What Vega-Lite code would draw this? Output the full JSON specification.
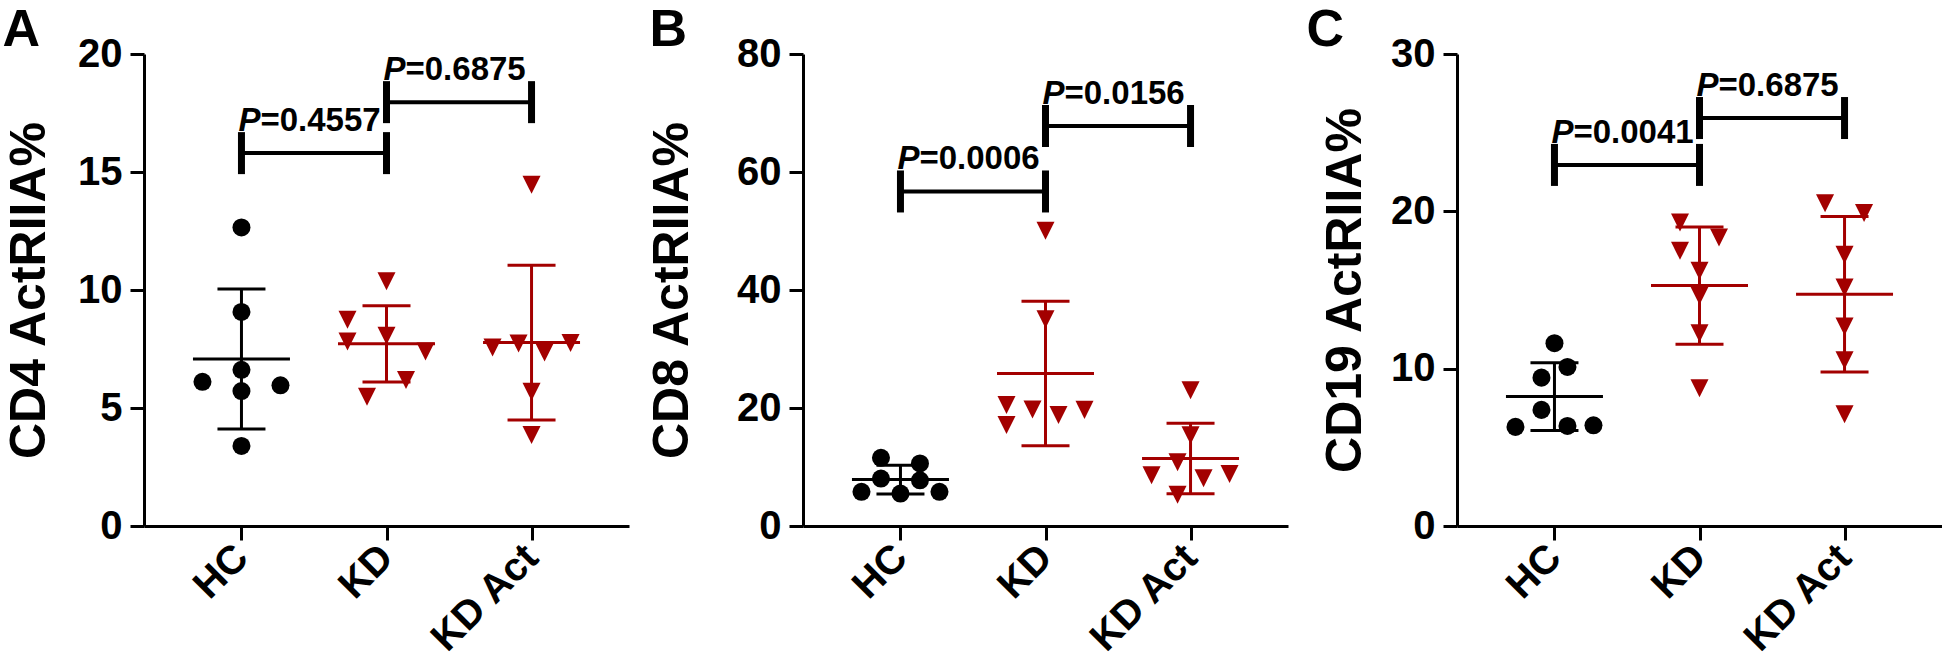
{
  "$schema": "https://vega.github.io/schema/vega-lite/v6.json",
  "padding": {"left": 2, "top": 4, "right": 0, "bottom": 0},
  "background": "white",
  "datasets": {
    "pts": [
      {"panel": "A", "group": "HC", "value": 12.65, "slot": 0},
      {"panel": "A", "group": "HC", "value": 9.07, "slot": 0},
      {"panel": "A", "group": "HC", "value": 6.62, "slot": 0},
      {"panel": "A", "group": "HC", "value": 6.11, "slot": -6},
      {"panel": "A", "group": "HC", "value": 5.96, "slot": 6},
      {"panel": "A", "group": "HC", "value": 5.72, "slot": 0},
      {"panel": "A", "group": "HC", "value": 3.39, "slot": 0},
      {"panel": "A", "group": "KD", "value": 10.37, "slot": 0},
      {"panel": "A", "group": "KD", "value": 8.74, "slot": -6},
      {"panel": "A", "group": "KD", "value": 7.82, "slot": -6},
      {"panel": "A", "group": "KD", "value": 8.06, "slot": 0},
      {"panel": "A", "group": "KD", "value": 7.39, "slot": 6},
      {"panel": "A", "group": "KD", "value": 6.19, "slot": 3},
      {"panel": "A", "group": "KD", "value": 5.48, "slot": -3},
      {"panel": "A", "group": "KD Act", "value": 14.46, "slot": 0},
      {"panel": "A", "group": "KD Act", "value": 7.56, "slot": -6},
      {"panel": "A", "group": "KD Act", "value": 7.73, "slot": -2},
      {"panel": "A", "group": "KD Act", "value": 7.35, "slot": 2},
      {"panel": "A", "group": "KD Act", "value": 7.75, "slot": 6},
      {"panel": "A", "group": "KD Act", "value": 5.69, "slot": 0},
      {"panel": "A", "group": "KD Act", "value": 3.86, "slot": 0},
      {"panel": "B", "group": "HC", "value": 11.55, "slot": -3},
      {"panel": "B", "group": "HC", "value": 10.6, "slot": 3},
      {"panel": "B", "group": "HC", "value": 8.05, "slot": -3},
      {"panel": "B", "group": "HC", "value": 7.75, "slot": 3},
      {"panel": "B", "group": "HC", "value": 5.8, "slot": -6},
      {"panel": "B", "group": "HC", "value": 5.5, "slot": 0},
      {"panel": "B", "group": "HC", "value": 5.8, "slot": 6},
      {"panel": "B", "group": "KD", "value": 50.04, "slot": 0},
      {"panel": "B", "group": "KD", "value": 35.05, "slot": 0},
      {"panel": "B", "group": "KD", "value": 20.52, "slot": -6},
      {"panel": "B", "group": "KD", "value": 19.73, "slot": -2},
      {"panel": "B", "group": "KD", "value": 18.83, "slot": 2},
      {"panel": "B", "group": "KD", "value": 19.68, "slot": 6},
      {"panel": "B", "group": "KD", "value": 17.13, "slot": -6},
      {"panel": "B", "group": "KD Act", "value": 23.0, "slot": 0},
      {"panel": "B", "group": "KD Act", "value": 15.4, "slot": 0},
      {"panel": "B", "group": "KD Act", "value": 10.8, "slot": -2},
      {"panel": "B", "group": "KD Act", "value": 8.6, "slot": -6},
      {"panel": "B", "group": "KD Act", "value": 8.1, "slot": 2},
      {"panel": "B", "group": "KD Act", "value": 8.8, "slot": 6},
      {"panel": "B", "group": "KD Act", "value": 5.3, "slot": -2},
      {"panel": "C", "group": "HC", "value": 11.62, "slot": 0},
      {"panel": "C", "group": "HC", "value": 10.11, "slot": 2},
      {"panel": "C", "group": "HC", "value": 9.43, "slot": -2},
      {"panel": "C", "group": "HC", "value": 7.38, "slot": -2},
      {"panel": "C", "group": "HC", "value": 6.3, "slot": -6},
      {"panel": "C", "group": "HC", "value": 6.36, "slot": 2},
      {"panel": "C", "group": "HC", "value": 6.4, "slot": 6},
      {"panel": "C", "group": "KD", "value": 19.29, "slot": -3},
      {"panel": "C", "group": "KD", "value": 18.34, "slot": 3},
      {"panel": "C", "group": "KD", "value": 17.49, "slot": -3},
      {"panel": "C", "group": "KD", "value": 16.22, "slot": 0},
      {"panel": "C", "group": "KD", "value": 14.63, "slot": 0},
      {"panel": "C", "group": "KD", "value": 12.25, "slot": 0},
      {"panel": "C", "group": "KD", "value": 8.75, "slot": 0},
      {"panel": "C", "group": "KD Act", "value": 20.52, "slot": -3},
      {"panel": "C", "group": "KD Act", "value": 19.89, "slot": 3},
      {"panel": "C", "group": "KD Act", "value": 17.24, "slot": 0},
      {"panel": "C", "group": "KD Act", "value": 15.16, "slot": 0},
      {"panel": "C", "group": "KD Act", "value": 12.68, "slot": 0},
      {"panel": "C", "group": "KD Act", "value": 10.54, "slot": 0},
      {"panel": "C", "group": "KD Act", "value": 7.1, "slot": 0}
    ],
    "brk": [
      {"panel": "A", "from": "HC", "to": "KD", "y": 15.8, "p": "=0.4557"},
      {"panel": "A", "from": "KD", "to": "KD Act", "y": 17.96, "p": "=0.6875"},
      {"panel": "B", "from": "HC", "to": "KD", "y": 56.7, "p": "=0.0006"},
      {"panel": "B", "from": "KD", "to": "KD Act", "y": 67.8, "p": "=0.0156"},
      {"panel": "C", "from": "HC", "to": "KD", "y": 22.95, "p": "=0.0041"},
      {"panel": "C", "from": "KD", "to": "KD Act", "y": 25.93, "p": "=0.6875"}
    ]
  },
  "hconcat": [
    {
      "width": 485, "height": 472,
      "title": {"text": "A", "dx": -2},
      "layer": [
        {"data": {"name": "pts"}, "transform": [{"filter": "datum.panel == 'A'"}],
         "mark": {"type": "point", "filled": true, "opacity": 1, "strokeWidth": 0, "size": 325},
         "encoding": {
           "x": {"field": "group", "type": "nominal", "scale": {"type": "point", "domain": ["HC", "KD", "KD Act"], "padding": 0.672}, "axis": {"title": null, "labelAngle": -45, "labelAlign": "right", "labelBaseline": "middle"}},
           "xOffset": {"field": "slot", "type": "quantitative", "scale": {"domain": [-6, 6], "range": [-39, 39]}},
           "y": {"field": "value", "type": "quantitative", "scale": {"domain": [0, 20], "nice": false}, "axis": {"title": "CD4 ActRIIA%", "values": [0, 5, 10, 15, 20], "titlePadding": 23}},
           "color": {"field": "group", "type": "nominal", "scale": {"domain": ["HC", "KD", "KD Act"], "range": ["#000000", "#a30000", "#a30000"]}, "legend": null},
           "shape": {"field": "group", "type": "nominal", "scale": {"domain": ["HC", "KD", "KD Act"], "range": ["circle", "M-1,-1L1,-1L0,1Z", "M-1,-1L1,-1L0,1Z"]}, "legend": null}
         }},
        {"data": {"name": "pts"}, "transform": [{"filter": "datum.panel == 'A'"}],
         "mark": {"type": "errorbar", "extent": "stdev", "ticks": true, "size": 48, "thickness": 3, "opacity": 1},
         "encoding": {
           "x": {"field": "group", "type": "nominal", "axis": {"title": null, "labelAngle": -45, "labelAlign": "right", "labelBaseline": "middle"}},
           "y": {"field": "value", "type": "quantitative", "axis": {"title": "CD4 ActRIIA%", "values": [0, 5, 10, 15, 20], "titlePadding": 23}},
           "color": {"field": "group", "type": "nominal", "legend": null}
         }},
        {"data": {"name": "pts"}, "transform": [{"filter": "datum.panel == 'A'"}],
         "mark": {"type": "tick", "size": 97, "thickness": 3, "opacity": 1},
         "encoding": {
           "x": {"field": "group", "type": "nominal", "axis": {"title": null, "labelAngle": -45, "labelAlign": "right", "labelBaseline": "middle"}},
           "y": {"aggregate": "mean", "field": "value", "type": "quantitative", "axis": {"title": "CD4 ActRIIA%", "values": [0, 5, 10, 15, 20], "titlePadding": 23}},
           "color": {"field": "group", "type": "nominal", "legend": null}
         }},
        {"data": {"name": "brk"}, "transform": [{"filter": "datum.panel == 'A'"}],
         "mark": {"type": "rule", "strokeWidth": 4, "color": "black", "opacity": 1},
         "encoding": {
           "x": {"field": "from", "type": "nominal", "axis": {"title": null, "labelAngle": -45, "labelAlign": "right", "labelBaseline": "middle"}},
           "x2": {"field": "to"},
           "y": {"field": "y", "type": "quantitative", "axis": {"title": "CD4 ActRIIA%", "values": [0, 5, 10, 15, 20], "titlePadding": 23}}
         }},
        {"data": {"name": "brk"}, "transform": [{"filter": "datum.panel == 'A'"}],
         "mark": {"type": "tick", "orient": "vertical", "size": 42, "thickness": 7, "color": "black", "opacity": 1},
         "encoding": {
           "x": {"field": "from", "type": "nominal", "axis": {"title": null, "labelAngle": -45, "labelAlign": "right", "labelBaseline": "middle"}},
           "y": {"field": "y", "type": "quantitative", "axis": {"title": "CD4 ActRIIA%", "values": [0, 5, 10, 15, 20], "titlePadding": 23}}
         }},
        {"data": {"name": "brk"}, "transform": [{"filter": "datum.panel == 'A'"}],
         "mark": {"type": "tick", "orient": "vertical", "size": 42, "thickness": 7, "color": "black", "opacity": 1},
         "encoding": {
           "x": {"field": "to", "type": "nominal", "axis": {"title": null, "labelAngle": -45, "labelAlign": "right", "labelBaseline": "middle"}},
           "y": {"field": "y", "type": "quantitative", "axis": {"title": "CD4 ActRIIA%", "values": [0, 5, 10, 15, 20], "titlePadding": 23}}
         }},
        {"data": {"name": "brk"}, "transform": [{"filter": "datum.panel == 'A'"}],
         "mark": {"type": "text", "text": "P", "align": "left", "baseline": "alphabetic", "dx": -3, "dy": -22, "fontStyle": "italic"},
         "encoding": {
           "x": {"field": "from", "type": "nominal", "axis": {"title": null, "labelAngle": -45, "labelAlign": "right", "labelBaseline": "middle"}},
           "y": {"field": "y", "type": "quantitative", "axis": {"title": "CD4 ActRIIA%", "values": [0, 5, 10, 15, 20], "titlePadding": 23}}
         }},
        {"data": {"name": "brk"}, "transform": [{"filter": "datum.panel == 'A'"}],
         "mark": {"type": "text", "align": "left", "baseline": "alphabetic", "dx": 19, "dy": -22},
         "encoding": {
           "x": {"field": "from", "type": "nominal", "axis": {"title": null, "labelAngle": -45, "labelAlign": "right", "labelBaseline": "middle"}},
           "y": {"field": "y", "type": "quantitative", "axis": {"title": "CD4 ActRIIA%", "values": [0, 5, 10, 15, 20], "titlePadding": 23}},
           "text": {"field": "p"}
         }}
      ]
    },
    {
      "width": 485, "height": 472,
      "title": {"text": "B", "dx": 2},
      "layer": [
        {"data": {"name": "pts"}, "transform": [{"filter": "datum.panel == 'B'"}],
         "mark": {"type": "point", "filled": true, "opacity": 1, "strokeWidth": 0, "size": 325},
         "encoding": {
           "x": {"field": "group", "type": "nominal", "scale": {"type": "point", "domain": ["HC", "KD", "KD Act"], "padding": 0.672}, "axis": {"title": null, "labelAngle": -45, "labelAlign": "right", "labelBaseline": "middle"}},
           "xOffset": {"field": "slot", "type": "quantitative", "scale": {"domain": [-6, 6], "range": [-39, 39]}},
           "y": {"field": "value", "type": "quantitative", "scale": {"domain": [0, 80], "nice": false}, "axis": {"title": "CD8 ActRIIA%", "values": [0, 20, 40, 60, 80], "titlePadding": 39}},
           "color": {"field": "group", "type": "nominal", "scale": {"domain": ["HC", "KD", "KD Act"], "range": ["#000000", "#a30000", "#a30000"]}, "legend": null},
           "shape": {"field": "group", "type": "nominal", "scale": {"domain": ["HC", "KD", "KD Act"], "range": ["circle", "M-1,-1L1,-1L0,1Z", "M-1,-1L1,-1L0,1Z"]}, "legend": null}
         }},
        {"data": {"name": "pts"}, "transform": [{"filter": "datum.panel == 'B'"}],
         "mark": {"type": "errorbar", "extent": "stdev", "ticks": true, "size": 48, "thickness": 3, "opacity": 1},
         "encoding": {
           "x": {"field": "group", "type": "nominal", "axis": {"title": null, "labelAngle": -45, "labelAlign": "right", "labelBaseline": "middle"}},
           "y": {"field": "value", "type": "quantitative", "axis": {"title": "CD8 ActRIIA%", "values": [0, 20, 40, 60, 80], "titlePadding": 39}},
           "color": {"field": "group", "type": "nominal", "legend": null}
         }},
        {"data": {"name": "pts"}, "transform": [{"filter": "datum.panel == 'B'"}],
         "mark": {"type": "tick", "size": 97, "thickness": 3, "opacity": 1},
         "encoding": {
           "x": {"field": "group", "type": "nominal", "axis": {"title": null, "labelAngle": -45, "labelAlign": "right", "labelBaseline": "middle"}},
           "y": {"aggregate": "mean", "field": "value", "type": "quantitative", "axis": {"title": "CD8 ActRIIA%", "values": [0, 20, 40, 60, 80], "titlePadding": 39}},
           "color": {"field": "group", "type": "nominal", "legend": null}
         }},
        {"data": {"name": "brk"}, "transform": [{"filter": "datum.panel == 'B'"}],
         "mark": {"type": "rule", "strokeWidth": 4, "color": "black", "opacity": 1},
         "encoding": {
           "x": {"field": "from", "type": "nominal", "axis": {"title": null, "labelAngle": -45, "labelAlign": "right", "labelBaseline": "middle"}},
           "x2": {"field": "to"},
           "y": {"field": "y", "type": "quantitative", "axis": {"title": "CD8 ActRIIA%", "values": [0, 20, 40, 60, 80], "titlePadding": 39}}
         }},
        {"data": {"name": "brk"}, "transform": [{"filter": "datum.panel == 'B'"}],
         "mark": {"type": "tick", "orient": "vertical", "size": 42, "thickness": 7, "color": "black", "opacity": 1},
         "encoding": {
           "x": {"field": "from", "type": "nominal", "axis": {"title": null, "labelAngle": -45, "labelAlign": "right", "labelBaseline": "middle"}},
           "y": {"field": "y", "type": "quantitative", "axis": {"title": "CD8 ActRIIA%", "values": [0, 20, 40, 60, 80], "titlePadding": 39}}
         }},
        {"data": {"name": "brk"}, "transform": [{"filter": "datum.panel == 'B'"}],
         "mark": {"type": "tick", "orient": "vertical", "size": 42, "thickness": 7, "color": "black", "opacity": 1},
         "encoding": {
           "x": {"field": "to", "type": "nominal", "axis": {"title": null, "labelAngle": -45, "labelAlign": "right", "labelBaseline": "middle"}},
           "y": {"field": "y", "type": "quantitative", "axis": {"title": "CD8 ActRIIA%", "values": [0, 20, 40, 60, 80], "titlePadding": 39}}
         }},
        {"data": {"name": "brk"}, "transform": [{"filter": "datum.panel == 'B'"}],
         "mark": {"type": "text", "text": "P", "align": "left", "baseline": "alphabetic", "dx": -3, "dy": -22, "fontStyle": "italic"},
         "encoding": {
           "x": {"field": "from", "type": "nominal", "axis": {"title": null, "labelAngle": -45, "labelAlign": "right", "labelBaseline": "middle"}},
           "y": {"field": "y", "type": "quantitative", "axis": {"title": "CD8 ActRIIA%", "values": [0, 20, 40, 60, 80], "titlePadding": 39}}
         }},
        {"data": {"name": "brk"}, "transform": [{"filter": "datum.panel == 'B'"}],
         "mark": {"type": "text", "align": "left", "baseline": "alphabetic", "dx": 19, "dy": -22},
         "encoding": {
           "x": {"field": "from", "type": "nominal", "axis": {"title": null, "labelAngle": -45, "labelAlign": "right", "labelBaseline": "middle"}},
           "y": {"field": "y", "type": "quantitative", "axis": {"title": "CD8 ActRIIA%", "values": [0, 20, 40, 60, 80], "titlePadding": 39}},
           "text": {"field": "p"}
         }}
      ]
    },
    {
      "width": 485, "height": 472,
      "title": {"text": "C", "dx": -14},
      "layer": [
        {"data": {"name": "pts"}, "transform": [{"filter": "datum.panel == 'C'"}],
         "mark": {"type": "point", "filled": true, "opacity": 1, "strokeWidth": 0, "size": 325},
         "encoding": {
           "x": {"field": "group", "type": "nominal", "scale": {"type": "point", "domain": ["HC", "KD", "KD Act"], "padding": 0.672}, "axis": {"title": null, "labelAngle": -45, "labelAlign": "right", "labelBaseline": "middle"}},
           "xOffset": {"field": "slot", "type": "quantitative", "scale": {"domain": [-6, 6], "range": [-39, 39]}},
           "y": {"field": "value", "type": "quantitative", "scale": {"domain": [0, 30], "nice": false}, "axis": {"title": "CD19 ActRIIA%", "values": [0, 10, 20, 30], "titlePadding": 20}},
           "color": {"field": "group", "type": "nominal", "scale": {"domain": ["HC", "KD", "KD Act"], "range": ["#000000", "#a30000", "#a30000"]}, "legend": null},
           "shape": {"field": "group", "type": "nominal", "scale": {"domain": ["HC", "KD", "KD Act"], "range": ["circle", "M-1,-1L1,-1L0,1Z", "M-1,-1L1,-1L0,1Z"]}, "legend": null}
         }},
        {"data": {"name": "pts"}, "transform": [{"filter": "datum.panel == 'C'"}],
         "mark": {"type": "errorbar", "extent": "stdev", "ticks": true, "size": 48, "thickness": 3, "opacity": 1},
         "encoding": {
           "x": {"field": "group", "type": "nominal", "axis": {"title": null, "labelAngle": -45, "labelAlign": "right", "labelBaseline": "middle"}},
           "y": {"field": "value", "type": "quantitative", "axis": {"title": "CD19 ActRIIA%", "values": [0, 10, 20, 30], "titlePadding": 20}},
           "color": {"field": "group", "type": "nominal", "legend": null}
         }},
        {"data": {"name": "pts"}, "transform": [{"filter": "datum.panel == 'C'"}],
         "mark": {"type": "tick", "size": 97, "thickness": 3, "opacity": 1},
         "encoding": {
           "x": {"field": "group", "type": "nominal", "axis": {"title": null, "labelAngle": -45, "labelAlign": "right", "labelBaseline": "middle"}},
           "y": {"aggregate": "mean", "field": "value", "type": "quantitative", "axis": {"title": "CD19 ActRIIA%", "values": [0, 10, 20, 30], "titlePadding": 20}},
           "color": {"field": "group", "type": "nominal", "legend": null}
         }},
        {"data": {"name": "brk"}, "transform": [{"filter": "datum.panel == 'C'"}],
         "mark": {"type": "rule", "strokeWidth": 4, "color": "black", "opacity": 1},
         "encoding": {
           "x": {"field": "from", "type": "nominal", "axis": {"title": null, "labelAngle": -45, "labelAlign": "right", "labelBaseline": "middle"}},
           "x2": {"field": "to"},
           "y": {"field": "y", "type": "quantitative", "axis": {"title": "CD19 ActRIIA%", "values": [0, 10, 20, 30], "titlePadding": 20}}
         }},
        {"data": {"name": "brk"}, "transform": [{"filter": "datum.panel == 'C'"}],
         "mark": {"type": "tick", "orient": "vertical", "size": 42, "thickness": 7, "color": "black", "opacity": 1},
         "encoding": {
           "x": {"field": "from", "type": "nominal", "axis": {"title": null, "labelAngle": -45, "labelAlign": "right", "labelBaseline": "middle"}},
           "y": {"field": "y", "type": "quantitative", "axis": {"title": "CD19 ActRIIA%", "values": [0, 10, 20, 30], "titlePadding": 20}}
         }},
        {"data": {"name": "brk"}, "transform": [{"filter": "datum.panel == 'C'"}],
         "mark": {"type": "tick", "orient": "vertical", "size": 42, "thickness": 7, "color": "black", "opacity": 1},
         "encoding": {
           "x": {"field": "to", "type": "nominal", "axis": {"title": null, "labelAngle": -45, "labelAlign": "right", "labelBaseline": "middle"}},
           "y": {"field": "y", "type": "quantitative", "axis": {"title": "CD19 ActRIIA%", "values": [0, 10, 20, 30], "titlePadding": 20}}
         }},
        {"data": {"name": "brk"}, "transform": [{"filter": "datum.panel == 'C'"}],
         "mark": {"type": "text", "text": "P", "align": "left", "baseline": "alphabetic", "dx": -3, "dy": -22, "fontStyle": "italic"},
         "encoding": {
           "x": {"field": "from", "type": "nominal", "axis": {"title": null, "labelAngle": -45, "labelAlign": "right", "labelBaseline": "middle"}},
           "y": {"field": "y", "type": "quantitative", "axis": {"title": "CD19 ActRIIA%", "values": [0, 10, 20, 30], "titlePadding": 20}}
         }},
        {"data": {"name": "brk"}, "transform": [{"filter": "datum.panel == 'C'"}],
         "mark": {"type": "text", "align": "left", "baseline": "alphabetic", "dx": 19, "dy": -22},
         "encoding": {
           "x": {"field": "from", "type": "nominal", "axis": {"title": null, "labelAngle": -45, "labelAlign": "right", "labelBaseline": "middle"}},
           "y": {"field": "y", "type": "quantitative", "axis": {"title": "CD19 ActRIIA%", "values": [0, 10, 20, 30], "titlePadding": 20}},
           "text": {"field": "p"}
         }}
      ]
    }
  ],
  "config": {
    "font": "Liberation Sans",
    "view": {"stroke": null},
    "concat": {"spacing": 18},
    "axis": {"domainColor": "black", "domainWidth": 3, "tickColor": "black", "tickWidth": 3, "tickSize": 14, "labelColor": "black", "labelFont": "Liberation Sans", "labelFontWeight": "bold", "labelPadding": 8, "grid": false, "titleFont": "Liberation Sans", "titleFontWeight": "bold", "titleFontSize": 50, "titleColor": "black", "labelOverlap": false},
    "axisX": {"labelFontSize": 40, "labelPadding": 11},
    "axisY": {"labelFontSize": 40},
    "title": {"anchor": "start", "frame": "bounds", "font": "Liberation Sans", "fontWeight": "bold", "fontSize": 52, "color": "black", "offset": -23},
    "text": {"font": "Liberation Sans", "fontWeight": "bold", "fontSize": 33, "color": "black"}
  }
}
